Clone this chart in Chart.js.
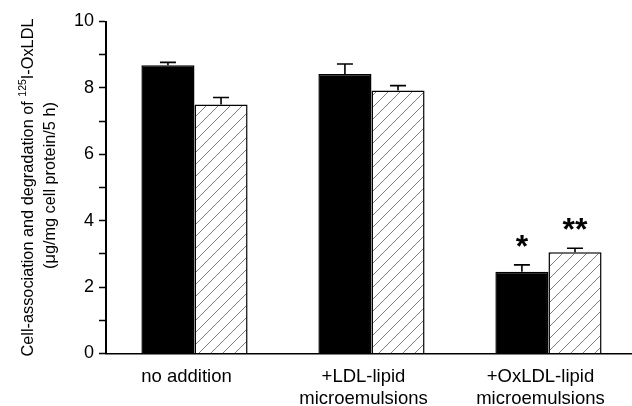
<!DOCTYPE html>
<html>
<head>
<meta charset="utf-8">
<script src="https://cdn.jsdelivr.net/npm/chart.js@4/dist/chart.umd.min.js"></script>
<style>
  html, body { margin: 0; padding: 0; background: #fff; }
  canvas { display: block; }
</style>
</head>
<body>
<canvas id="c" width="632" height="406"></canvas>
<script>
// Treatment groups (multi-line tick labels)
const categories = [
  ['no addition'],
  ['+LDL-lipid', 'microemulsions'],
  ['+OxLDL-lipid', 'microemulsions']
];
// Cell-association (solid) and degradation (hatched), µg/mg cell protein/5 h
const associationValues = [8.68, 8.42, 2.46];
const associationErrors = [0.09, 0.30, 0.21];
const degradationValues = [7.50, 7.92, 3.05];
const degradationErrors = [0.21, 0.15, 0.12];
// Significance markers
const associationMarks = ['', '', '*'];
const degradationMarks = ['', '', '**'];
// Y axis ticks
const yTicks = [0, 1, 2, 3, 4, 5, 6, 7, 8, 9, 10];
const yLabelled = [0, 2, 4, 6, 8, 10];

const FONT = "'Liberation Sans', Arial, Helvetica, sans-serif";

// Diagonal hatch fill
function makeHatch() {
  const s = 12;
  const p = document.createElement('canvas');
  p.width = s; p.height = s;
  const g = p.getContext('2d');
  g.fillStyle = '#fff';
  g.fillRect(0, 0, s, s);
  g.strokeStyle = '#6e6e6e';
  g.lineWidth = 0.9;
  g.beginPath();
  g.moveTo(-1, s + 1); g.lineTo(s + 1, -1);
  g.moveTo(-1, 1); g.lineTo(1, -1);
  g.moveTo(s - 1, s + 1); g.lineTo(s + 1, s - 1);
  g.stroke();
  return document.getElementById('c').getContext('2d').createPattern(p, 'repeat');
}

const errorBars = {
  id: 'errorBars',
  afterDatasetsDraw(chart) {
    const ctx = chart.ctx;
    const y = chart.scales.y;
    ctx.save();
    ctx.strokeStyle = '#000';
    ctx.lineWidth = 1.6;
    chart.data.datasets.forEach((ds, i) => {
      const meta = chart.getDatasetMeta(i);
      meta.data.forEach((el, j) => {
        const top = y.getPixelForValue(ds.values[j] + ds.errors[j]);
        ctx.beginPath();
        ctx.moveTo(el.x, el.y);
        ctx.lineTo(el.x, top);
        ctx.moveTo(el.x - 8, top);
        ctx.lineTo(el.x + 8, top);
        ctx.stroke();
        const mark = ds.marks[j];
        if (mark) {
          ctx.fillStyle = '#000';
          ctx.font = 'bold 32px ' + FONT;
          ctx.textAlign = 'center';
          ctx.textBaseline = 'alphabetic';
          ctx.fillText(mark, el.x, top - 8);
        }
      });
    });
    ctx.restore();
  }
};

const yTitle = {
  id: 'yTitle',
  afterDraw(chart) {
    const ctx = chart.ctx;
    const cy = (chart.chartArea.top + chart.chartArea.bottom) / 2;
    ctx.save();
    ctx.fillStyle = '#000';
    ctx.textBaseline = 'alphabetic';
    // first line, with superscript mass number
    ctx.translate(33, cy);
    ctx.rotate(-Math.PI / 2);
    const big = '16.3px ' + FONT, small = '10.5px ' + FONT;
    const a = 'Cell-association and degradation of ', sup = '125', b = 'I-OxLDL';
    ctx.font = big; const wa = ctx.measureText(a).width, wb = ctx.measureText(b).width;
    ctx.font = small; const ws = ctx.measureText(sup).width;
    let x = -(wa + ws + wb) / 2;
    ctx.font = big; ctx.textAlign = 'left';
    ctx.fillText(a, x, 0); x += wa;
    ctx.font = small; ctx.fillText(sup, x, -7); x += ws;
    ctx.font = big; ctx.fillText(b, x, 0);
    ctx.restore();
    ctx.save();
    ctx.fillStyle = '#000';
    ctx.translate(55, cy - 2);
    ctx.rotate(-Math.PI / 2);
    ctx.font = '16.3px ' + FONT;
    ctx.textAlign = 'center';
    ctx.fillText('(\u03bcg/mg cell protein/5 h)', 0, 0);
    ctx.restore();
  }
};

new Chart(document.getElementById('c'), {
  type: 'bar',
  data: {
    datasets: [
      {
        data: associationValues.map((v, i) => ({ x: i, y: v })),
        values: associationValues, errors: associationErrors, marks: associationMarks,
        backgroundColor: '#000', borderColor: '#000', borderWidth: 1.5
      },
      {
        data: degradationValues.map((v, i) => ({ x: i, y: v })),
        values: degradationValues, errors: degradationErrors, marks: degradationMarks,
        backgroundColor: makeHatch(), borderColor: '#000', borderWidth: 1.5
      }
    ]
  },
  options: {
    responsive: false,
    animation: false,
    devicePixelRatio: 1,
    categoryPercentage: 0.6,
    barPercentage: 1.0,
    layout: { padding: { top: 21.5, left: 0, right: 0, bottom: 0 } },
    plugins: { legend: { display: false }, tooltip: { enabled: false } },
    scales: {
      x: {
        type: 'linear',
        offset: false,
        min: -0.5,
        max: 2.472,
        afterBuildTicks: s => { s.ticks = categories.map((_, i) => ({ value: i })); },
        afterFit: s => { s.height = 52.5; },
        grid: { display: false, offset: false },
        border: { display: true, color: '#000', width: 1.6 },
        ticks: {
          autoSkip: false, maxRotation: 0, minRotation: 0,
          padding: 5,
          labelOffset: -8,
          color: '#000',
          font: { family: FONT, size: 18.5, lineHeight: 1.15 },
          callback: v => categories[v]
        }
      },
      y: {
        min: 0,
        max: 10,
        afterBuildTicks: s => { s.ticks = yTicks.map(v => ({ value: v })); },
        afterFit: s => { s.width = 106; },
        grid: { drawOnChartArea: false, color: '#000', tickLength: 7, tickWidth: 1.5 },
        border: { display: true, color: '#000', width: 2 },
        ticks: {
          padding: 5,
          color: '#000',
          font: { family: FONT, size: 18 },
          callback: v => (yLabelled.includes(v) ? String(v) : '')
        }
      }
    }
  },
  plugins: [errorBars, yTitle]
});
</script>
</body>
</html>
